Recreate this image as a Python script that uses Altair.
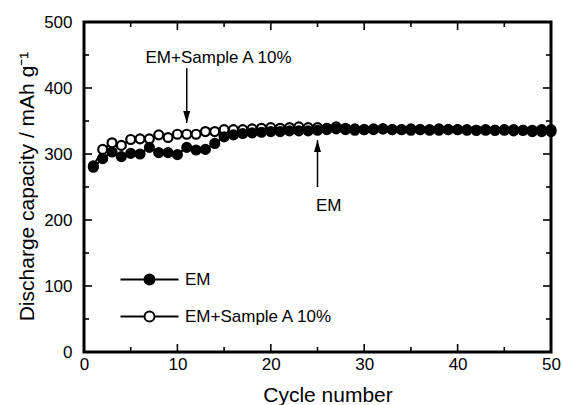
import altair as alt
import pandas as pd

cycles = list(range(1, 51))
em = [280, 293, 303, 296, 301, 300, 310, 302, 302, 299,
      310, 306, 307, 316, 326, 329, 331, 332, 333, 334,
      334, 335, 335, 335, 336, 337, 338, 337, 336, 337,
      337, 338, 337, 337, 336, 337, 336, 336, 337, 337,
      336, 336, 336, 336, 336, 337, 336, 336, 337, 337]
em_sample = [282, 307, 317, 313, 322, 323, 323, 329, 325, 330,
             330, 330, 334, 334, 337, 337, 337, 338, 339, 340,
             339, 340, 341, 340, 340, 339, 341, 339, 338, 337,
             338, 338, 337, 337, 338, 337, 337, 338, 337, 337,
             337, 336, 337, 336, 337, 335, 336, 334, 334, 334]
series_names = ["EM", "EM+Sample A 10%"]

x_major = [0, 10, 20, 30, 40, 50]
x_minor = [5, 15, 25, 35, 45]
y_major = [0, 100, 200, 300, 400, 500]
y_minor = [50, 150, 250, 350, 450]

# annotations: label text, label position, arrow from/to
ann_text = ["EM+Sample A 10%", "EM"]
ann_text_x = [14.4, 26.2]
ann_text_y = [438, 214]
arrow_x = [11, 25]
arrow_from = [430, 250]
arrow_tip = [347, 321]

FONT = "Liberation Sans"
X_MIN, X_MAX = 0, 50
Y_MIN, Y_MAX = 0, 500

rows = []
# open series first so the filled EM series is drawn on top
for name, vals in [(series_names[1], em_sample), (series_names[0], em)]:
    for c, v in zip(cycles, vals):
        rows.append({"cycle": c, "capacity": v, "series": name,
                     "order": 0 if name == series_names[1] else 1})
df = pd.DataFrame(rows)

ann = pd.DataFrame({"text": ann_text, "tx": ann_text_x, "ty": ann_text_y})
arrows = pd.DataFrame({"ax": arrow_x, "y0": arrow_from, "y1": arrow_tip,
                       "dir": ["down", "up"]})
xticks = pd.DataFrame({"v": x_major + x_minor,
                       "kind": ["major"] * len(x_major) + ["minor"] * len(x_minor)})
yticks = pd.DataFrame({"v": y_major + y_minor,
                       "kind": ["major"] * len(y_major) + ["minor"] * len(y_minor)})

xs = alt.Scale(domain=[X_MIN, X_MAX], nice=False, zero=False)
ys = alt.Scale(domain=[Y_MIN, Y_MAX], nice=False, zero=False)

base = alt.Chart(df)

lines = base.mark_line(color="black", strokeWidth=2).encode(
    x=alt.X("cycle:Q", scale=xs,
            axis=alt.Axis(orient="bottom", values=x_major, ticks=False, domain=False,
                          grid=False, labelFontSize=17, labelFont=FONT,
                          labelColor="black", labelPadding=4, labelFlush=False,
                          title="Cycle number", titleFont=FONT, titleFontSize=21,
                          titleFontWeight="normal", titleColor="black",
                          titleX=243.5, titleY=49, titleBaseline="alphabetic")),
    y=alt.Y("capacity:Q", scale=ys,
            axis=alt.Axis(orient="left", values=y_major, ticks=False, domain=False,
                          grid=False, labelFontSize=17, labelFont=FONT,
                          labelColor="black", labelPadding=12, labelFlush=False,
                          title="Discharge capacity / mAh g\u207b\u00b9",
                          titleFont=FONT, titleFontSize=21, titleFontWeight="normal",
                          titleColor="black", titleX=-51, titleY=164,
                          titleBaseline="alphabetic", titleAngle=270)),
    detail="series:N",
)

legend_symbol = ("M-5.8,0L-1,0M1,0L5.8,0"
                 "M1,0A1,1 0 1,1 -1,0A1,1 0 1,1 1,0Z")

points = base.mark_point(filled=True, size=80, stroke="black", strokeWidth=2.2,
                         opacity=1).encode(
    x=alt.X("cycle:Q", scale=xs, axis=None),
    y=alt.Y("capacity:Q", scale=ys, axis=None),
    fill=alt.Fill("series:N",
                  scale=alt.Scale(domain=series_names, range=["black", "white"]),
                  legend=alt.Legend(orient="none", legendX=57, legendY=249,
                                    title=None, symbolType=legend_symbol,
                                    symbolSize=100, symbolStrokeColor="black",
                                    symbolStrokeWidth=2, labelFont=FONT,
                                    labelFontSize=17, labelColor="black",
                                    labelOffset=27, rowPadding=18, padding=0)),
    order=alt.Order("order:Q"),
)

def vticks(yval, kind, size):
    return alt.Chart(xticks).transform_filter(alt.datum.kind == kind).mark_tick(
        orient="vertical", size=size, thickness=1.6, color="black", opacity=1,
        clip=True
    ).encode(x=alt.X("v:Q", scale=xs, axis=None),
             y=alt.Y(datum=yval, scale=ys, axis=None))

def hticks(xval, kind, size):
    return alt.Chart(yticks).transform_filter(alt.datum.kind == kind).mark_tick(
        orient="horizontal", size=size, thickness=1.6, color="black", opacity=1,
        clip=True
    ).encode(y=alt.Y("v:Q", scale=ys, axis=None),
             x=alt.X(datum=xval, scale=xs, axis=None))

tick_layers = [
    vticks(Y_MIN, "major", 16), vticks(Y_MIN, "minor", 10),
    vticks(Y_MAX, "major", 16), vticks(Y_MAX, "minor", 10),
    hticks(X_MIN, "major", 16), hticks(X_MIN, "minor", 10),
    hticks(X_MAX, "major", 16), hticks(X_MAX, "minor", 10),
]

texts = alt.Chart(ann).mark_text(font=FONT, fontSize=17, color="black",
                                 baseline="alphabetic", align="center").encode(
    x=alt.X("tx:Q", scale=xs, axis=None),
    y=alt.Y("ty:Q", scale=ys, axis=None),
    text="text:N",
)

shafts = alt.Chart(arrows).mark_rule(color="black", strokeWidth=1.5).encode(
    x=alt.X("ax:Q", scale=xs, axis=None),
    y=alt.Y("y0:Q", scale=ys, axis=None),
    y2="y1:Q",
)

head_down = alt.Chart(arrows).transform_filter(alt.datum.dir == "down").mark_point(
    shape="M-1,-3.4L1,-3.4L0,0Z", size=49, filled=True, color="black", opacity=1
).encode(x=alt.X("ax:Q", scale=xs, axis=None), y=alt.Y("y1:Q", scale=ys, axis=None))

head_up = alt.Chart(arrows).transform_filter(alt.datum.dir == "up").mark_point(
    shape="M-1,3.4L1,3.4L0,0Z", size=49, filled=True, color="black", opacity=1
).encode(x=alt.X("ax:Q", scale=xs, axis=None), y=alt.Y("y1:Q", scale=ys, axis=None))

chart = alt.layer(
    lines, points, *tick_layers, texts, shafts, head_down, head_up
).resolve_axis(x="independent", y="independent").properties(
    width=467, height=330,
    autosize=alt.AutoSizeParams(type="none"),
    padding={"left": 84, "top": 22, "right": 12, "bottom": 53},
    background="white",
).configure_view(stroke="black", strokeWidth=3)

chart.save("out.html", embed_options={"renderer": "svg", "actions": False})
